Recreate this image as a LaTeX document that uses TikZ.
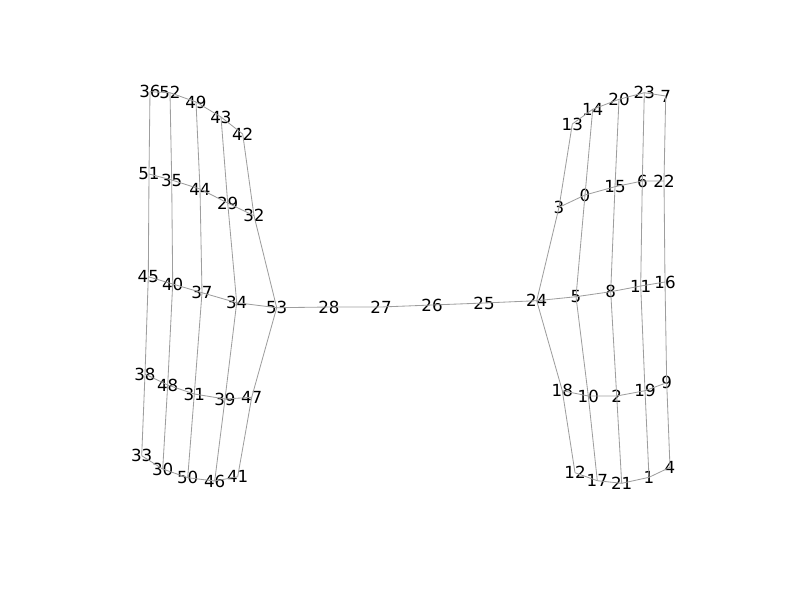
\documentclass[tikz,border=0pt]{standalone}
\usepackage{fontspec}
\setmainfont{DejaVu Sans}

\begin{document}
\begin{tikzpicture}[x=0.72pt,y=-0.72pt,
  vlabel/.style={inner sep=0pt,font=\fontsize{12}{14}\selectfont},
  link/.style={draw=black!38,line width=0.6pt}]
\useasboundingbox (0,0) rectangle (800,600);
% left block
\path (150,91.7) node[vlabel] (n36) {36};
\path (170,92.7) node[vlabel] (n52) {52};
\path (196,102) node[vlabel] (n49) {49};
\path (221,117) node[vlabel] (n43) {43};
\path (242.7,134) node[vlabel] (n42) {42};
\path (149,174) node[vlabel] (n51) {51};
\path (171.7,180) node[vlabel] (n35) {35};
\path (200,189) node[vlabel] (n44) {44};
\path (227.7,203) node[vlabel] (n29) {29};
\path (254,215.7) node[vlabel] (n32) {32};
\path (148.3,276.7) node[vlabel] (n45) {45};
\path (172.7,284) node[vlabel] (n40) {40};
\path (202,292.7) node[vlabel] (n37) {37};
\path (236.7,302.7) node[vlabel] (n34) {34};
\path (276.7,307.7) node[vlabel] (n53) {53};
\path (145,374) node[vlabel] (n38) {38};
\path (167.7,385) node[vlabel] (n48) {48};
\path (194.3,394) node[vlabel] (n31) {31};
\path (225,399) node[vlabel] (n39) {39};
\path (251.7,397.3) node[vlabel] (n47) {47};
\path (141.7,455.7) node[vlabel] (n33) {33};
\path (162.7,469) node[vlabel] (n30) {30};
\path (187.7,477.7) node[vlabel] (n50) {50};
\path (214.7,481) node[vlabel] (n46) {46};
\path (237.7,476.7) node[vlabel] (n41) {41};
% bridge
\path (329,307) node[vlabel] (n28) {28};
\path (381,307) node[vlabel] (n27) {27};
\path (432,305) node[vlabel] (n26) {26};
\path (484,303) node[vlabel] (n25) {25};
% right block
\path (572.3,124) node[vlabel] (n13) {13};
\path (592.7,109.3) node[vlabel] (n14) {14};
\path (619,99.3) node[vlabel] (n20) {20};
\path (644.3,92.7) node[vlabel] (n23) {23};
\path (665.7,96) node[vlabel] (n7) {7};
\path (559,207.3) node[vlabel] (n3) {3};
\path (585,195) node[vlabel] (n0) {0};
\path (615,186.7) node[vlabel] (n15) {15};
\path (642.3,181) node[vlabel] (n6) {6};
\path (664,181) node[vlabel] (n22) {22};
\path (536.7,300.7) node[vlabel] (n24) {24};
\path (576,296.7) node[vlabel] (n5) {5};
\path (610.7,291.7) node[vlabel] (n8) {8};
\path (640.7,286) node[vlabel] (n11) {11};
\path (665,282) node[vlabel] (n16) {16};
\path (562.3,390.7) node[vlabel] (n18) {18};
\path (588.3,396) node[vlabel] (n10) {10};
\path (616.7,396) node[vlabel] (n2) {2};
\path (645,390.7) node[vlabel] (n19) {19};
\path (666.7,382.7) node[vlabel] (n9) {9};
\path (575,472.7) node[vlabel] (n12) {12};
\path (597.3,480.7) node[vlabel] (n17) {17};
\path (621.7,483.3) node[vlabel] (n21) {21};
\path (649,477.3) node[vlabel] (n1) {1};
\path (670,467.3) node[vlabel] (n4) {4};

% left rows
\draw[link] (n36.center) -- (n52.center) -- (n49.center) -- (n43.center) -- (n42.center);
\draw[link] (n51.center) -- (n35.center) -- (n44.center) -- (n29.center) -- (n32.center);
\draw[link] (n45.center) -- (n40.center) -- (n37.center) -- (n34.center) -- (n53.center);
\draw[link] (n38.center) -- (n48.center) -- (n31.center) -- (n39.center) -- (n47.center);
\draw[link] (n33.center) -- (n30.center) -- (n50.center) -- (n46.center) -- (n41.center);
% left columns
\draw[link] (n36.center) -- (n51.center) -- (n45.center) -- (n38.center) -- (n33.center);
\draw[link] (n52.center) -- (n35.center) -- (n40.center) -- (n48.center) -- (n30.center);
\draw[link] (n49.center) -- (n44.center) -- (n37.center) -- (n31.center) -- (n50.center);
\draw[link] (n43.center) -- (n29.center) -- (n34.center) -- (n39.center) -- (n46.center);
\draw[link] (n42.center) -- (n32.center) -- (n53.center) -- (n47.center) -- (n41.center);
% bridge
\draw[link] (n53.center) -- (n28.center) -- (n27.center) -- (n26.center) -- (n25.center) -- (n24.center);
% right rows
\draw[link] (n13.center) -- (n14.center) -- (n20.center) -- (n23.center) -- (n7.center);
\draw[link] (n3.center) -- (n0.center) -- (n15.center) -- (n6.center) -- (n22.center);
\draw[link] (n24.center) -- (n5.center) -- (n8.center) -- (n11.center) -- (n16.center);
\draw[link] (n18.center) -- (n10.center) -- (n2.center) -- (n19.center) -- (n9.center);
\draw[link] (n12.center) -- (n17.center) -- (n21.center) -- (n1.center) -- (n4.center);
% right columns
\draw[link] (n13.center) -- (n3.center) -- (n24.center) -- (n18.center) -- (n12.center);
\draw[link] (n14.center) -- (n0.center) -- (n5.center) -- (n10.center) -- (n17.center);
\draw[link] (n20.center) -- (n15.center) -- (n8.center) -- (n2.center) -- (n21.center);
\draw[link] (n23.center) -- (n6.center) -- (n11.center) -- (n19.center) -- (n1.center);
\draw[link] (n7.center) -- (n22.center) -- (n16.center) -- (n9.center) -- (n4.center);
\end{tikzpicture}
\end{document}
